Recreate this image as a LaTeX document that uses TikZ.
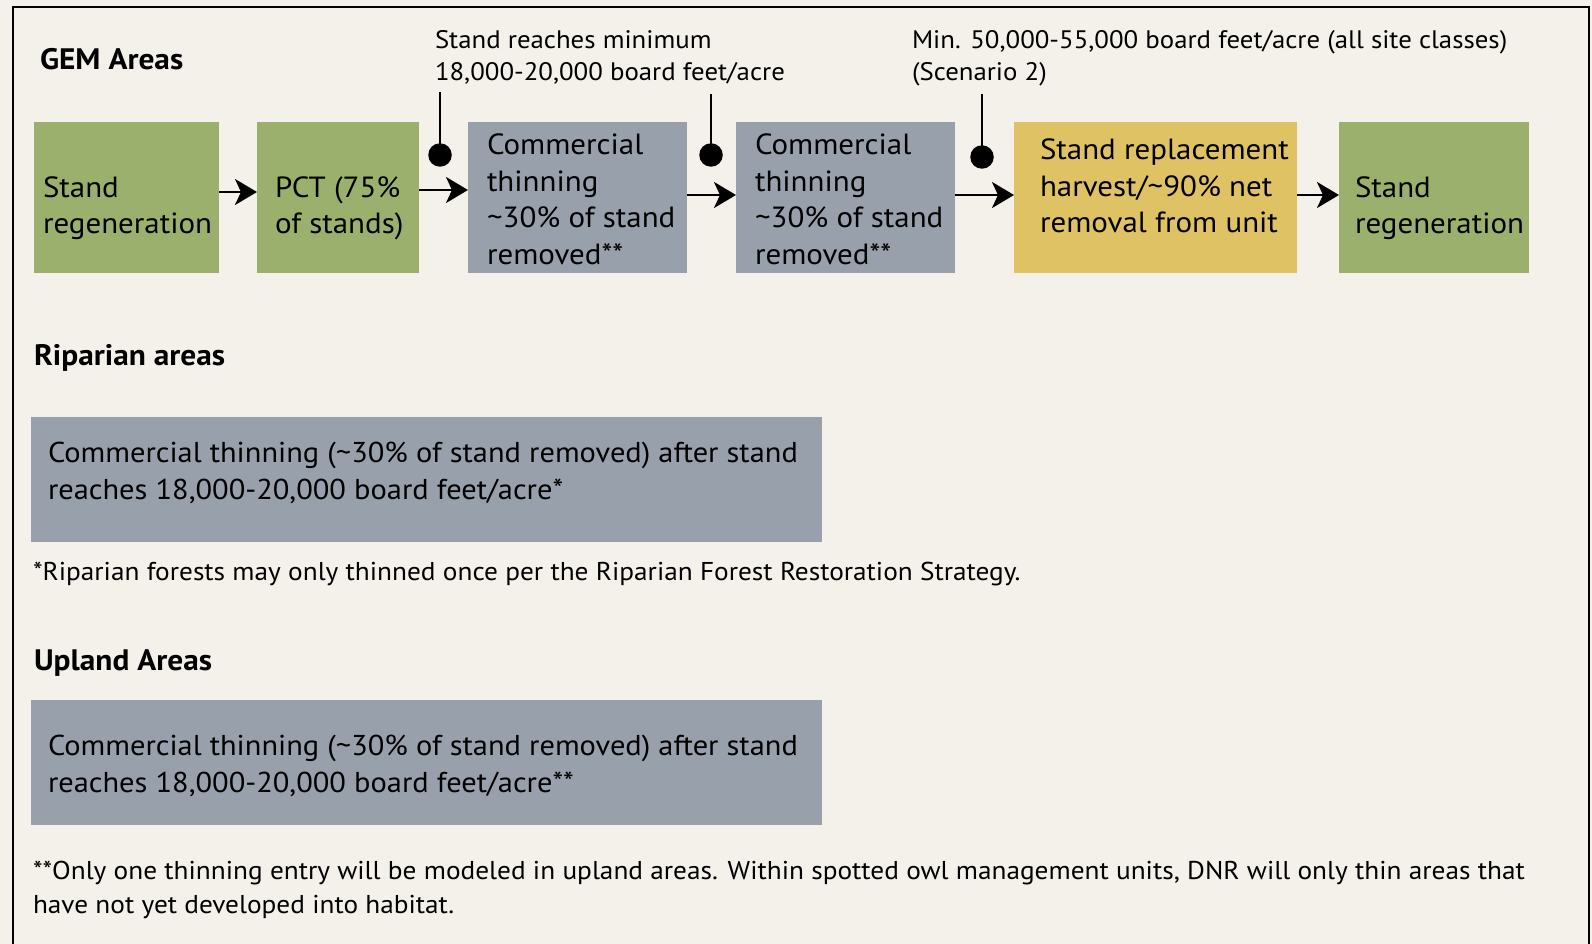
\documentclass[tikz,border=0pt]{standalone}
\usepackage{fontspec}
\setmainfont{PT Sans}[FakeStretch=1.06]
\usetikzlibrary{arrows.meta}
\definecolor{bgc}{HTML}{F4F1EA}
\definecolor{grn}{HTML}{9AB06C}
\definecolor{gry}{HTML}{98A0AC}
\definecolor{ylw}{HTML}{DEC264}
\newcommand{\ml}[1]{\begin{tabular}[t]{@{}l@{}}#1\end{tabular}}
\newcommand{\boxfont}{\fontsize{29.2}{36.5}\selectfont}
\newcommand{\notefont}{\fontsize{25.3}{32}\selectfont}
\newcommand{\fnfont}{\fontsize{25.75}{34}\selectfont}
\newcommand{\headfont}{\fontsize{29.6}{34}\selectfont\bfseries}
\newcommand{\wideboxfont}{\fontsize{28.7}{37.5}\selectfont}
\begin{document}
\begin{tikzpicture}[x=1pt,y=-1pt,
  fbox/.style={rectangle, inner sep=0pt, outer sep=0pt, anchor=north west, minimum height=151pt},
  gbox/.style={fbox, fill=grn},
  tbox/.style={fbox, fill=gry},
  ybox/.style={fbox, fill=ylw},
  wbox/.style={rectangle, inner sep=0pt, outer sep=0pt, anchor=north west, fill=gry, minimum width=791pt, minimum height=125pt},
  txt/.style={inner sep=0pt, outer sep=0pt, anchor=base west, font=\boxfont},
  note/.style={inner sep=0pt, outer sep=0pt, anchor=base west, font=\notefont},
  fn/.style={inner sep=0pt, outer sep=0pt, anchor=base west, font=\fnfont},
  head/.style={inner sep=0pt, outer sep=0pt, anchor=base west, font=\headfont},
  wtxt/.style={inner sep=0pt, outer sep=0pt, anchor=base west, font=\wideboxfont},
  arr/.style={line width=2.6pt, -{Stealth[length=22pt,width=26pt,inset=6pt]}},
  pin/.style={line width=2.4pt},
  dot/.style={circle, fill=black, inner sep=0pt, minimum size=23.5pt}
]
\useasboundingbox (0,0) rectangle (1592,944);
\fill[bgc] (0,0) rectangle (1592,944);
\begin{scope}
\clip (0,0) rectangle (1592,944);
\draw[line width=2.6pt] (13,960) -- (13,7) -- (1589,7) -- (1589,960);
\end{scope}

% headers
\node[head] (hgem) at (40,70) {GEM Areas};
\node[head] (hrip) at (34,365) {Riparian areas};
\node[head] (hupl) at (34,670) {Upland Areas};

% flow boxes
\node[gbox, minimum width=185pt] (b1) at (34,122) {};
\node[gbox, minimum width=162pt] (b2) at (257,122) {};
\node[tbox, minimum width=219pt] (b3) at (468,122) {};
\node[tbox, minimum width=219pt] (b4) at (736,122) {};
\node[ybox, minimum width=283pt] (b5) at (1014,122) {};
\node[gbox, minimum width=190pt] (b6) at (1339,122) {};

\node[txt] (t1) at (43,197) {\ml{Stand\\regeneration}};
\node[txt] (t2) at (275,197) {\ml{PCT (75\%\\of stands)}};
\node[txt] (t3) at (487,155) {\ml{Commercial\\thinning\\\textasciitilde30\% of stand\\removed**}};
\node[txt] (t4) at (755,155) {\ml{Commercial\\thinning\\\textasciitilde30\% of stand\\removed**}};
\node[txt] (t5) at (1040,160) {\ml{Stand replacement\\harvest/\textasciitilde90\% net\\removal from unit}};
\node[txt] (t6) at (1355,197) {\ml{Stand\\regeneration}};

% arrows
\draw[arr] ([yshift=5.5pt]b1.east) -- ([yshift=5.5pt]b2.west);
\draw[arr] ([yshift=7.5pt]b2.east) -- ([yshift=7.5pt]b3.west);
\draw[arr] ([yshift=2.5pt]b3.east) -- ([yshift=2.5pt]b4.west);
\draw[arr] ([yshift=2.5pt]b4.east) -- ([yshift=2.5pt]b5.west);
\draw[arr] ([yshift=2.5pt]b5.east) -- ([yshift=2.5pt]b6.west);

% annotations
\node[note] (a1) at (435,49) {\ml{Stand reaches minimum\\18,000-20,000 board feet/acre}};
\node[note] (a2) at (912,49) {\ml{Min. 50,000-55,000 board feet/acre (all site classes)\\(Scenario 2)}};

% pins
\coordinate (p1) at (440,92);
\coordinate (p2) at (711,94);
\coordinate (p3) at (982,94);
\node[dot] (d1) at (440,155) {};
\node[dot] (d2) at (711,155) {};
\node[dot] (d3) at (982,157) {};
\draw[pin] (p1) -- (d1.center);
\draw[pin] (p2) -- (d2.center);
\draw[pin] (p3) -- (d3.center);

% riparian
\node[wbox] (r1) at (31,417) {};
\node[wtxt] (rt) at (48,462) {\ml{Commercial thinning (\textasciitilde30\% of stand removed) after stand\\reaches 18,000-20,000 board feet/acre*}};
\node[fn] (rn) at (33,580) {*Riparian forests may only thinned once per the Riparian Forest Restoration Strategy.};

% upland
\node[wbox] (u1) at (31,700) {};
\node[wtxt] (ut) at (48,755) {\ml{Commercial thinning (\textasciitilde30\% of stand removed) after stand\\reaches 18,000-20,000 board feet/acre**}};
\node[fn] (un) at (33,879) {\ml{**Only one thinning entry will be modeled in upland areas. Within spotted owl management units, DNR will only thin areas that\\have not yet developed into habitat.}};
\end{tikzpicture}
\end{document}
